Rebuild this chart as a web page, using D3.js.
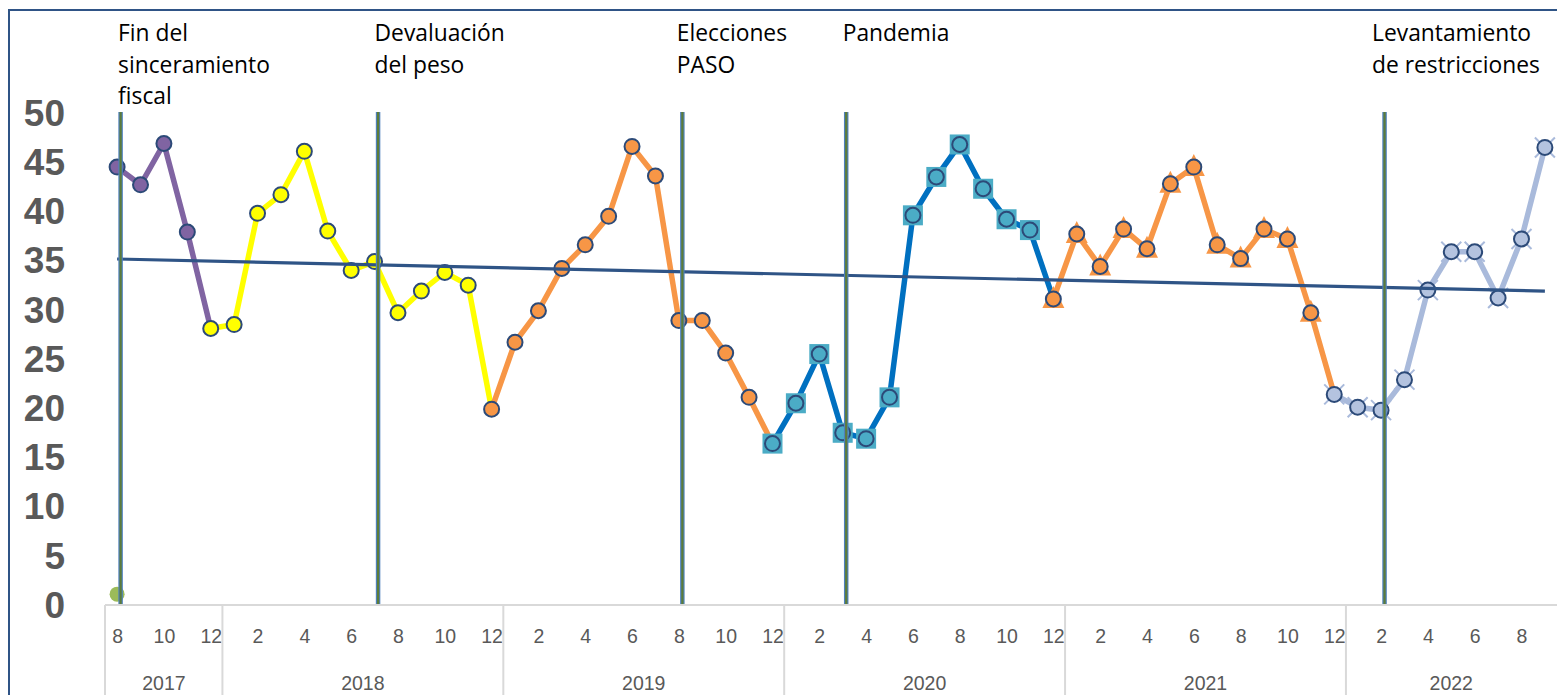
<!DOCTYPE html>
<html><head><meta charset="utf-8">
<script src="https://cdn.jsdelivr.net/npm/d3@7"></script>
<style>body{margin:0;background:#fff}svg{display:block}</style>
</head><body>
<svg id="c" width="1557" height="695"></svg>
<script>
const months = [8,9,10,11,12, 1,2,3,4,5,6,7,8,9,10,11,12, 1,2,3,4,5,6,7,8,9,10,11,12, 1,2,3,4,5,6,7,8,9,10,11,12, 1,2,3,4,5,6,7,8,9,10,11,12, 1,2,3,4,5,6,7,8,9];
const years  = [2017,2017,2017,2017,2017, 2018,2018,2018,2018,2018,2018,2018,2018,2018,2018,2018,2018, 2019,2019,2019,2019,2019,2019,2019,2019,2019,2019,2019,2019, 2020,2020,2020,2020,2020,2020,2020,2020,2020,2020,2020,2020, 2021,2021,2021,2021,2021,2021,2021,2021,2021,2021,2021,2021, 2022,2022,2022,2022,2022,2022,2022,2022,2022];
const values = [44.4,42.6,46.8,37.8,28.0, 28.4,39.7,41.6,46.0,37.9,33.9,34.8,29.6,31.8,33.7,32.4,19.8, 26.6,29.8,34.1,36.5,39.4,46.5,43.5,28.8,28.8,25.5,21.0,16.3, 20.4,25.4,17.4,16.8,21.0,39.5,43.4,46.7,42.2,39.1,38.0,31.0, 37.6,34.3,38.1,36.1,42.7,44.4,36.5,35.1,38.1,37.1,29.6,21.3, 20.0,19.7,22.8,31.9,35.8,35.8,31.1,37.1,46.4];
// segments: [startIndex, endIndex(inclusive line), marker type, colours]
const segStart = [0, 4, 16, 28, 40, 52];
const segEnd   = [4, 16, 28, 40, 52, 61];
const segLine  = ["#8064a2","#ffff00","#f79646","#0070c0","#f79646","#a9badb"];
const segMark  = ["purple","yellow","orange","square","triangle","cross"];
const events = [0, 11, 24, 31, 54];
const eventText = [["Fin del","sinceramiento","fiscal"],["Devaluación","del peso"],["Elecciones","PASO"],["Pandemia"],["Levantamiento","de restricciones"]];
const eventTextShift = [1, 0, -2, 0, -9];
const trendStart = 35.06, trendEnd = 31.8;
const yTicks = [0,5,10,15,20,25,30,35,40,45,50];
const strayValue = 1;

const svg = d3.select("#c");
const idx = d3.range(values.length);
const x = d3.scalePoint().domain(idx).range([105.4, 1556.6]).padding(0.5);
const y = d3.scaleLinear().domain([0,50]).range([604,112]);
const step = x.step();

// border
svg.append("rect").attr("x",9).attr("y",10).attr("width",1570).attr("height",700)
  .attr("fill","none").attr("stroke","#2f5486").attr("stroke-width",2);

// y axis labels
const yAxis = d3.axisLeft(y).tickValues(yTicks).tickSize(0).tickPadding(0);
const gy = svg.append("g").attr("transform","translate(65,0)").call(yAxis);
gy.select(".domain").remove();
gy.selectAll("text").attr("font-family","Liberation Sans, Arial, sans-serif").attr("font-weight","bold")
  .attr("font-size",37).attr("fill","#595959").attr("dy","0.36em");

// x axis: horizontal line
const axY = 605;
svg.append("line").attr("x1",105).attr("x2",1557).attr("y1",axY).attr("y2",axY).attr("stroke","#d9d9d9").attr("stroke-width",2);
const xAxis = d3.axisBottom(x).tickValues(idx.filter(i=>months[i]%2===0)).tickFormat(i=>months[i]).tickSize(0).tickPadding(0);
const gx = svg.append("g").attr("transform",`translate(0,${axY})`).call(xAxis);
gx.select(".domain").remove();
gx.selectAll("text").attr("font-family","Liberation Sans, Arial, sans-serif").attr("font-size",19.5)
  .attr("fill","#595959").attr("dy",0).attr("y",38);
// year groups
const yearList = Array.from(new Set(years));
const bounds = [105];
yearList.forEach((yr,k)=>{
  const ii = idx.filter(i=>years[i]===yr);
  const last = ii[ii.length-1];
  bounds.push(k<yearList.length-1 ? x(last)+step/2 : 1557);
});
bounds.forEach((b,k)=>{
  if (b<1556) svg.append("line").attr("x1",b).attr("x2",b).attr("y1",axY).attr("y2",695).attr("stroke","#d9d9d9").attr("stroke-width",2);
});
yearList.forEach((yr,k)=>{
  const ii = idx.filter(i=>years[i]===yr);
  const cx = (x(ii[0])+x(ii[ii.length-1]))/2;
  svg.append("text").attr("x",cx).attr("y",690).attr("text-anchor","middle")
    .attr("font-family","Liberation Sans, Arial, sans-serif").attr("font-size",19.5).attr("fill","#595959").text(yr);
});

// series lines
const line = d3.line().x(i=>x(i)).y(i=>y(values[i]));
segStart.forEach((s,k)=>{
  svg.append("path").attr("d",line(d3.range(s,segEnd[k]+1))).attr("fill","none")
    .attr("stroke",segLine[k]).attr("stroke-width",5.5).attr("stroke-linejoin","round");
});
// markers
const darkStroke = "#2c4a78";
segStart.forEach((s,k)=>{
  const type = segMark[k];
  const lastIdx = k===segStart.length-1 ? segEnd[k] : segEnd[k]-1;
  const pts = d3.range(s, lastIdx+1);
  const g = svg.append("g");
  pts.forEach(i=>{
    const px = x(i), py = y(values[i]);
    if (type==="square") {
      g.append("rect").attr("x",px-10).attr("y",py-10).attr("width",20).attr("height",20).attr("fill","#4bacc6");
      g.append("circle").attr("cx",px).attr("cy",py).attr("r",7.5).attr("fill","#4bacc6").attr("stroke",darkStroke).attr("stroke-width",2);
    } else if (type==="triangle") {
      g.append("path").attr("d",`M${px},${py-13}L${px+11},${py+9}L${px-11},${py+9}Z`).attr("fill","#f79646");
      g.append("circle").attr("cx",px).attr("cy",py).attr("r",7.5).attr("fill","#f79646").attr("stroke",darkStroke).attr("stroke-width",2);
    } else if (type==="cross") {
      g.append("path").attr("d",`M${px-10},${py-10}L${px+10},${py+10}M${px-10},${py+10}L${px+10},${py-10}`)
        .attr("stroke","#a9badb").attr("stroke-width",2);
      g.append("circle").attr("cx",px).attr("cy",py).attr("r",7.5).attr("fill","#b4c3df").attr("stroke",darkStroke).attr("stroke-width",2);
    } else {
      const fill = {purple:"#8064a2",yellow:"#ffff00",orange:"#f79646"}[type];
      g.append("circle").attr("cx",px).attr("cy",py).attr("r",7.5).attr("fill",fill).attr("stroke",darkStroke).attr("stroke-width",2);
    }
  });
});
// stray point
svg.append("circle").attr("cx",x(0)).attr("cy",y(strayValue)).attr("r",7.5).attr("fill","#9bbb59");

// trend line
svg.append("line").attr("x1",x(0)).attr("x2",x(values.length-1)).attr("y1",y(trendStart)).attr("y2",y(trendEnd))
  .attr("stroke","#2f5486").attr("stroke-width",3.2);

// event lines
events.forEach((e,k)=>{
  const ex = x(e)+3.5;
  svg.append("line").attr("x1",ex).attr("x2",ex).attr("y1",y(50)).attr("y2",y(0)).attr("stroke","#4f81bd").attr("stroke-width",4.5);
  svg.append("line").attr("x1",ex).attr("x2",ex).attr("y1",y(50)).attr("y2",y(0)).attr("stroke","#5d7c3a").attr("stroke-width",2.2);
  const t = svg.append("text").attr("x",x(e)+eventTextShift[k]).attr("y",41)
    .attr("font-family","Open Sans, sans-serif").attr("font-size",22.8).attr("fill","#000");
  eventText[k].forEach((s,j)=>t.append("tspan").attr("x",x(e)+eventTextShift[k]).attr("dy",j===0?0:31.5).text(s));
});
</script>
</body></html>
